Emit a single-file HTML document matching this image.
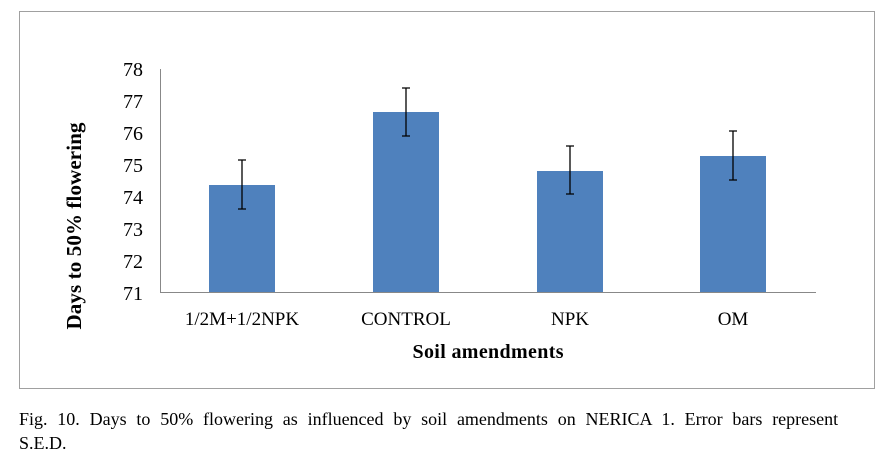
<!DOCTYPE html>
<html><head><meta charset="utf-8"><style>
body{margin:0;background:#fff;width:887px;height:460px;overflow:hidden;font-family:"Liberation Serif",serif}
</style></head><body>
<svg width="887" height="460" xmlns="http://www.w3.org/2000/svg" font-family="Liberation Serif, serif">
<rect x="19.5" y="11.5" width="855" height="377" fill="#fff" stroke="#a0a0a0"/>
<g font-size="20" text-anchor="end" fill="#000">
<text x="143" y="76">78</text><text x="143" y="108">77</text><text x="143" y="140">76</text>
<text x="143" y="172">75</text><text x="143" y="204">74</text><text x="143" y="236">73</text>
<text x="143" y="268">72</text><text x="143" y="300">71</text>
</g>
<g fill="#4f81bd">
<rect x="209" y="185" width="66" height="107"/>
<rect x="373" y="112" width="66" height="180"/>
<rect x="537" y="171" width="66" height="121"/>
<rect x="700" y="156" width="66" height="136"/>
</g>
<line x1="160.5" y1="69" x2="160.5" y2="292" stroke="#888"/>
<line x1="160" y1="292.5" x2="816" y2="292.5" stroke="#888"/>
<g stroke="#000" stroke-width="1.3">
<path d="M242 160V209M238 160h8M238 209h8"/>
<path d="M406 88V136M402 88h8M402 136h8"/>
<path d="M570 146V194M566 146h8M566 194h8"/>
<path d="M733 131V180M729 131h8M729 180h8"/>
</g>
<g font-size="19" text-anchor="middle">
<text x="242" y="325">1/2M+1/2NPK</text><text x="406" y="325">CONTROL</text>
<text x="570" y="325">NPK</text><text x="733" y="325">OM</text>
</g>
<text x="488" y="358" font-size="20" font-weight="bold" text-anchor="middle" textLength="151">Soil amendments</text>
<text transform="translate(81,226) rotate(-90)" font-size="21" font-weight="bold" text-anchor="middle" textLength="207">Days to 50% flowering</text>
<text x="19" y="425" font-size="18" style="word-spacing:5.3px">Fig. 10. Days to 50% flowering as influenced by soil amendments on NERICA 1. Error bars represent</text>
<text x="19" y="449" font-size="18">S.E.D.</text>
</svg>
</body></html>
